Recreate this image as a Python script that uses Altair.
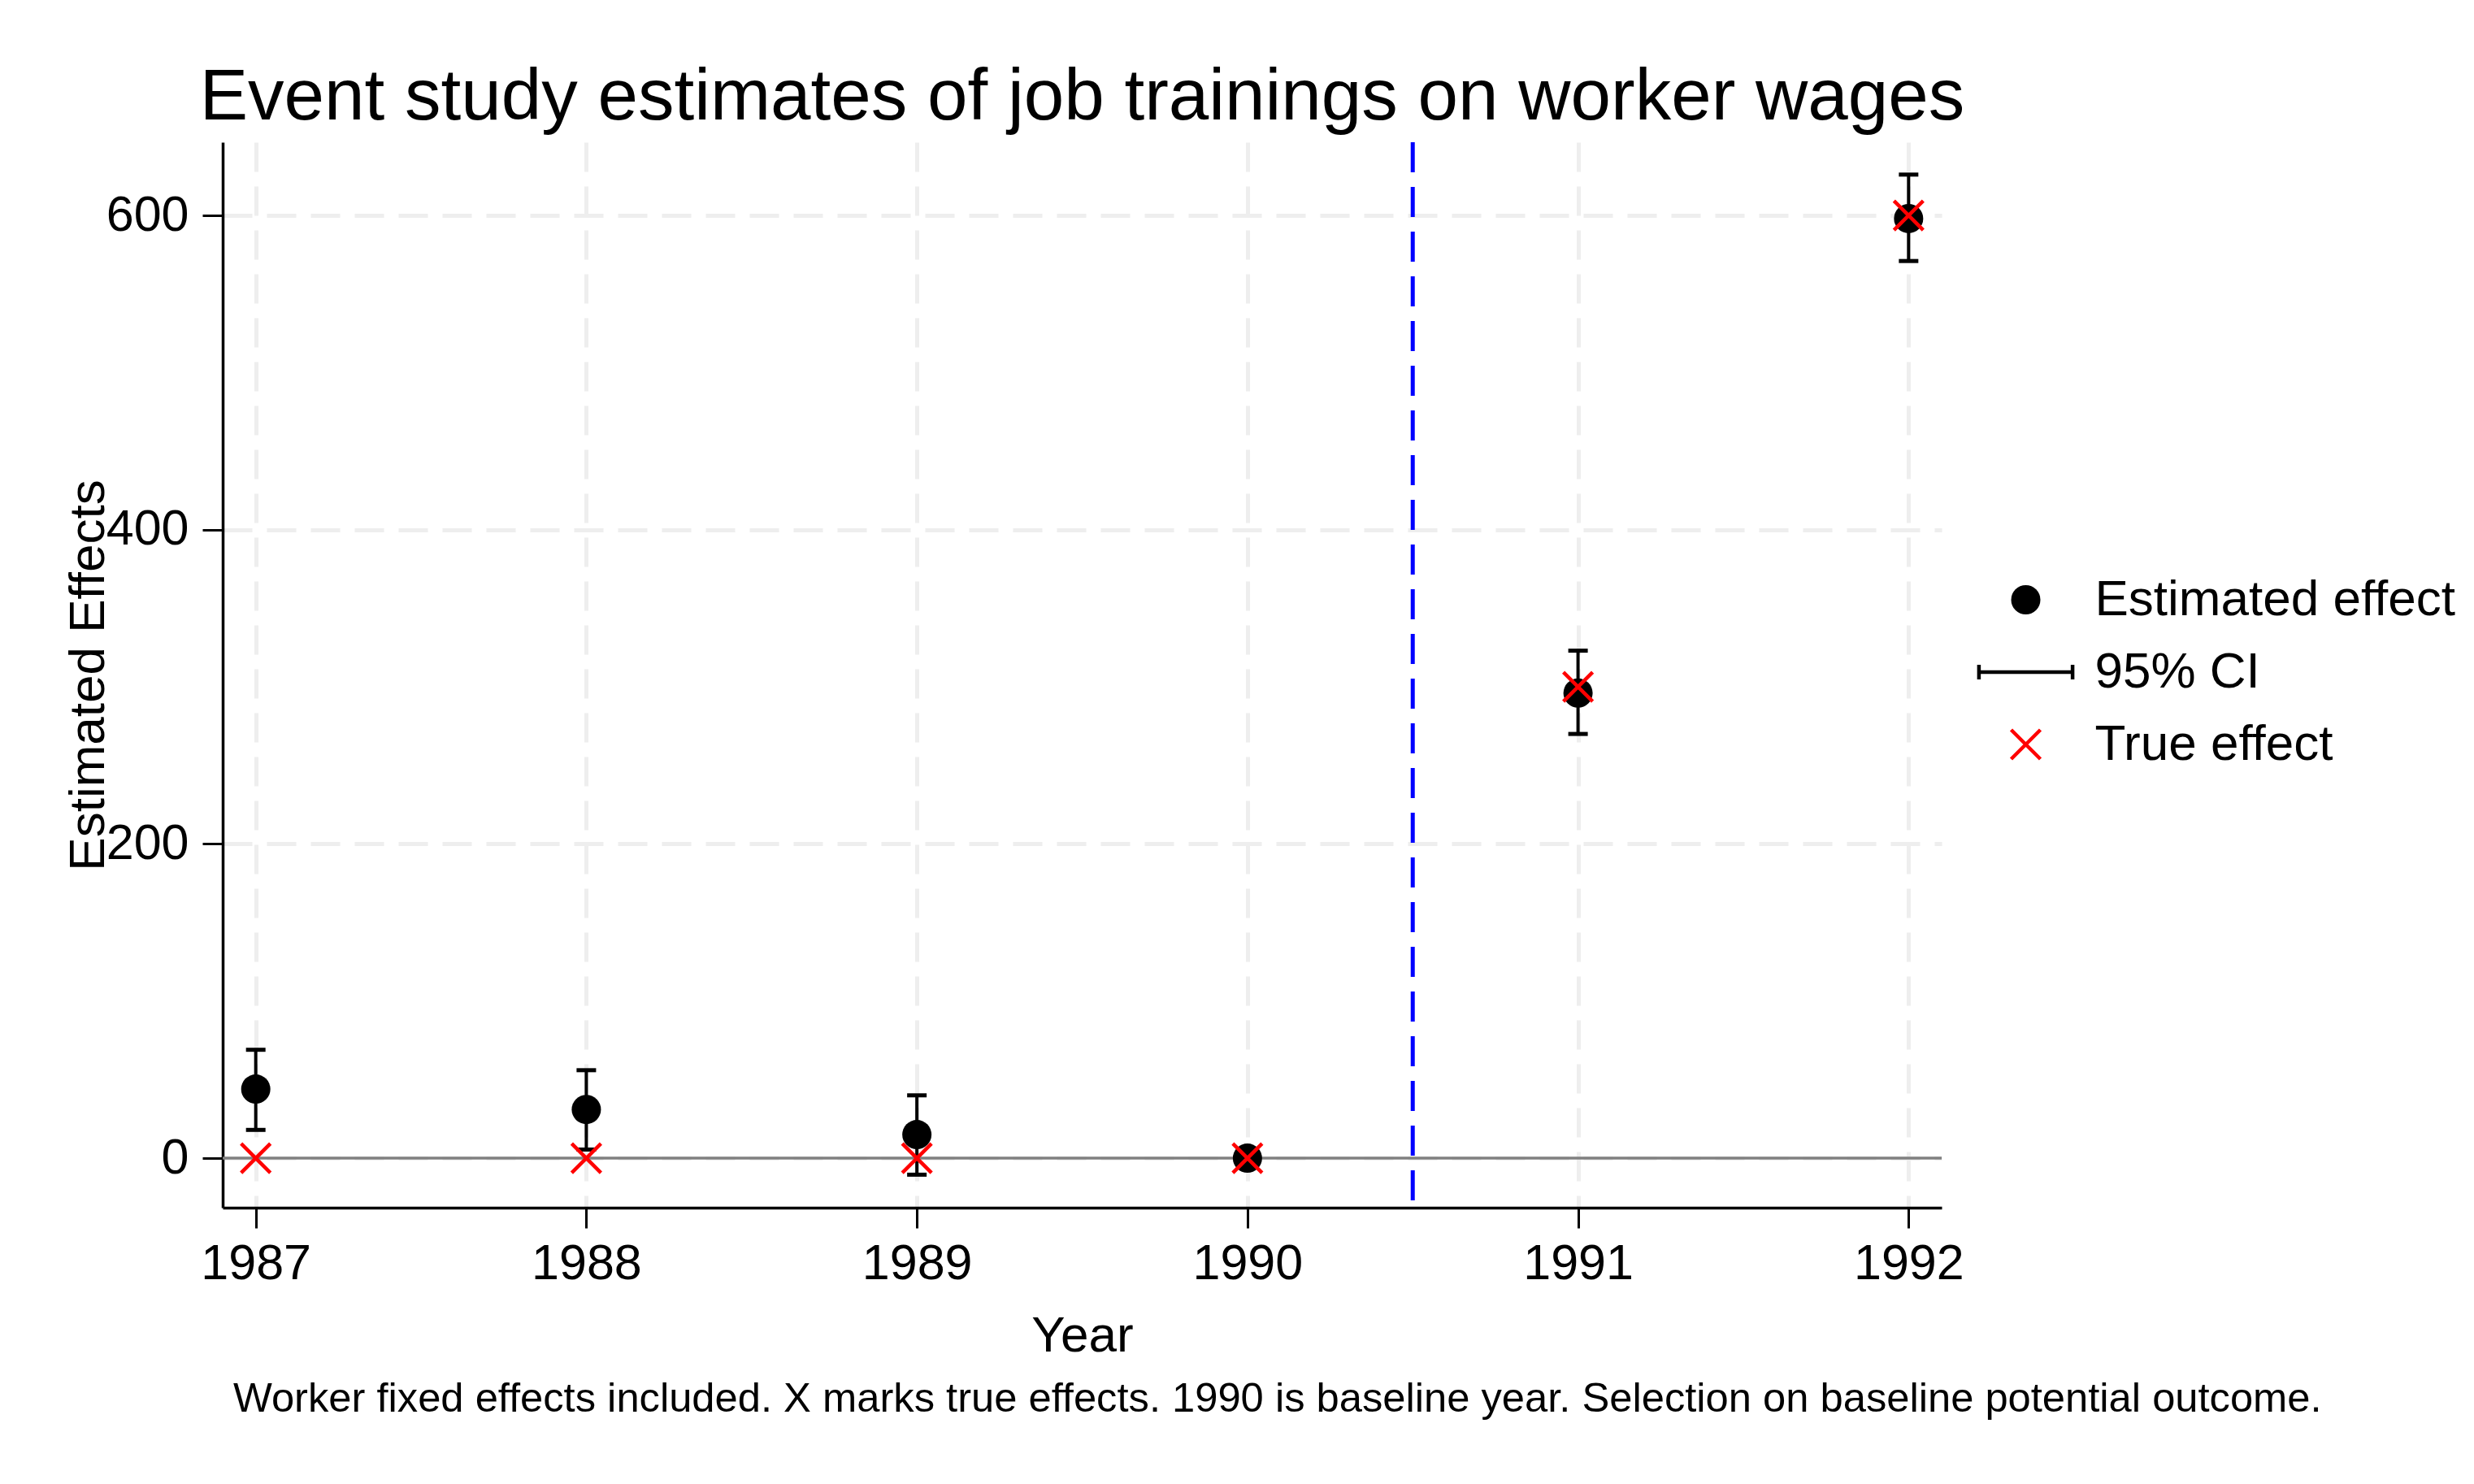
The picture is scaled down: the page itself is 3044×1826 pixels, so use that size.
import altair as alt
import pandas as pd

# ---- data ----
years = [1987, 1988, 1989, 1990, 1991, 1992]
estimate = [44, 31, 15, 0, 296, 598]
ci_low = [18, 5.5, -10.5, None, 270, 571]
ci_high = [69, 56, 40, None, 323, 626]
true_effect = [0, 0, 0, 0, 300, 600]
series_names = ["Estimated effect", "95% CI", "True effect"]
x_ticks = [1987, 1988, 1989, 1990, 1991, 1992]
y_ticks = [0, 200, 400, 600]
zero_line = [0]
treatment_line = [1990.5]
title_text = "Event study estimates of job trainings on worker wages"
note_text = ["Worker fixed effects included. X marks true effects. 1990 is baseline year. Selection on baseline potential outcome."]

FONT = "Liberation Sans"
W, H = 2115, 1311

est_df = pd.DataFrame({"year": years, "value": estimate, "series": series_names[0]})
true_df = pd.DataFrame({"year": years, "value": true_effect, "series": series_names[2]})
points_df = pd.concat([est_df, true_df], ignore_index=True)
ci_df = pd.DataFrame({"year": years, "lo": ci_low, "hi": ci_high}).dropna()
ci_long = pd.concat([
    pd.DataFrame({"year": ci_df["year"], "v": ci_df["lo"]}),
    pd.DataFrame({"year": ci_df["year"], "v": ci_df["hi"]}),
], ignore_index=True)

xscale = alt.Scale(domain=[1986.9, 1992.1], nice=False, zero=False)
yscale = alt.Scale(domain=[-31.5, 646.6], nice=False, zero=False)

xaxis = alt.Axis(values=x_ticks, format="d", title="Year", labelFlush=False,
                 titleX=W / 2, titleY=176, titleBaseline="alphabetic", titleAlign="center",
                 labelPadding=14)
yaxis = alt.Axis(values=y_ticks, format="d", title="Estimated Effects", labelFlush=False,
                 titleX=-147, titleY=H / 2, titleBaseline="alphabetic", titleAlign="center",
                 titleAngle=270, labelPadding=17)

ci_path = "M-3.2,-0.5L-3.2,0.5M-3.2,0L3.2,0M3.2,-0.5L3.2,0.5"
x_path = "M-1,-1L1,1M-1,1L1,-1"

legend = alt.Legend(title=None, orient="none", legendX=2187.5, legendY=532,
                    labelFont=FONT, labelFontSize=62, labelColor="black", labelLimit=2000,
                    labelOffset=54, symbolSize=1296, symbolStrokeWidth=4.5,
                    symbolOpacity=1, rowPadding=27, padding=0)

X = alt.X("year:Q", scale=xscale, axis=xaxis)

zero = alt.Chart(pd.DataFrame({"y": zero_line})).mark_rule(
    color="#808080", strokeWidth=3.5).encode(y=alt.Y("y:Q", scale=yscale))

vline = alt.Chart(pd.DataFrame({"x": treatment_line})).mark_rule(
    color="#0000ff", strokeWidth=5, strokeDash=[37, 18]).encode(x=alt.X("x:Q", scale=xscale))

bars = alt.Chart(ci_df).mark_rule(color="black", strokeWidth=4).encode(
    x=X, y=alt.Y("lo:Q", scale=yscale, axis=yaxis), y2="hi:Q")

caps = alt.Chart(ci_long).mark_tick(color="black", orient="horizontal", size=24,
                                    thickness=5, opacity=1).encode(
    x=X, y=alt.Y("v:Q", scale=yscale))

pts = alt.Chart(points_df).mark_point(size=1296, strokeWidth=4.5, opacity=1).encode(
    x=X,
    y=alt.Y("value:Q", scale=yscale),
    shape=alt.Shape("series:N", scale=alt.Scale(domain=series_names, range=["circle", ci_path, x_path]), legend=legend),
    fill=alt.Fill("series:N", scale=alt.Scale(domain=series_names, range=["black", "transparent", "transparent"]), legend=legend),
    stroke=alt.Stroke("series:N", scale=alt.Scale(domain=series_names, range=["transparent", "black", "#ff0000"]), legend=legend),
)

note = alt.Chart(pd.DataFrame({"t": note_text})).mark_text(
    align="left", baseline="alphabetic", font=FONT, fontSize=50.7, color="black").encode(
    x=alt.value(13), y=alt.value(1562), text="t:N")

chart = alt.layer(zero, vline, bars, caps, pts, note).properties(
    width=W, height=H,
    title=alt.TitleParams(title_text, font=FONT, fontSize=89, fontWeight="normal", color="black",
                          anchor="middle", frame="group", baseline="alphabetic", offset=-63),
    autosize=alt.AutoSizeParams(type="none"),
    padding={"left": 266, "top": 167, "right": 647, "bottom": 332},
).configure(font=FONT).configure_view(stroke=None).configure_axis(
    labelFont=FONT, labelFontSize=61, labelColor="black",
    titleFont=FONT, titleFontSize=62, titleFontWeight="normal", titleColor="black",
    domainColor="black", domainWidth=3.5, tickColor="black", tickWidth=3, tickSize=25,
    grid=True, gridColor="#eeeeee", gridWidth=5, gridDash=[36, 18],
)

chart.save("out.html", embed_options={"renderer": "svg", "actions": False})
